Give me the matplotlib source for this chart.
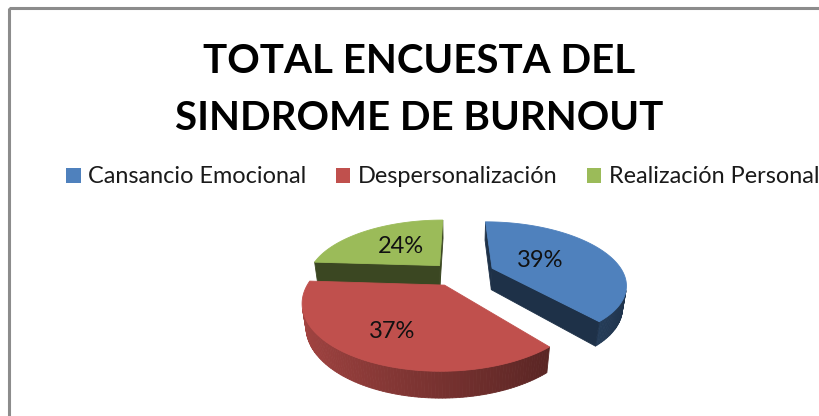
import numpy as np
import matplotlib
matplotlib.use("Agg")
import matplotlib.pyplot as plt
from matplotlib.patches import Polygon, Patch, Rectangle

# ---------------- data ----------------
categories = ["Cansancio Emocional", "Despersonalización", "Realización Personal"]
values = [39, 37, 24]
pct_labels = ["39%", "37%", "24%"]
title_lines = ["TOTAL ENCUESTA DEL", "SINDROME DE BURNOUT"]

# ---------------- style ----------------
colors = ["#4F81BD", "#C0504D", "#9BBB59"]
explode = [0.29, 0.2, 0.2]
label_r = [0.42, 0.68, 0.5]
FONT = ["Lato", "DejaVu Sans"]

W, H = 819, 416
fig = plt.figure(figsize=(W / 100, H / 100), dpi=100)
ax = fig.add_axes([0, 0, 1, 1])
ax.set_xlim(0, W)
ax.set_ylim(H, 0)
ax.axis("off")

# chart-area border (top/left visible)
ax.add_patch(Rectangle((8.5, 8), W + 20, H + 20, fill=False,
                       edgecolor="#8c8c8c", lw=2.2, zorder=0))

# ---------------- 3D projection ----------------
alpha = np.radians(27)
ca, sa = np.cos(alpha), np.sin(alpha)
Dcam, fcam = 3.8, 500.0
X0, Y0 = 457.0, 274.0
depth = 0.19
cam = np.array([0.0, -Dcam * ca, Dcam * sa])
fwd = np.array([0.0, ca, -sa])
up = np.array([0.0, sa, ca])


def proj(p):
    rel = np.asarray(p, float) - cam
    zc = rel @ fwd
    xc = rel[..., 0]
    yc = rel @ up
    return np.stack([X0 + fcam * xc / zc, Y0 - fcam * yc / zc], axis=-1), zc


def shade(c, f):
    r, g, b = matplotlib.colors.to_rgb(c)
    return (r * f, g * f, b * f)


total = float(sum(values))
starts = np.concatenate([[0], np.cumsum(values)[:-1]]) / total * 360.0
ends = np.cumsum(values) / total * 360.0

slices = []
for i, v in enumerate(values):
    t0, t1 = np.radians(starts[i]), np.radians(ends[i])
    tm = 0.5 * (t0 + t1)
    off = explode[i] * np.array([np.sin(tm), np.cos(tm), 0.0])
    apex = off.copy()
    th = np.linspace(t0, t1, 120)
    arc = np.stack([np.sin(th), np.cos(th), np.zeros_like(th)], axis=1) + off
    dz = np.array([0, 0, -depth])
    faces = []
    # outer curved band
    for k in range(len(th) - 1):
        a, b = arc[k], arc[k + 1]
        tmid = 0.5 * (th[k] + th[k + 1])
        n = np.array([np.sin(tmid), np.cos(tmid), 0])
        cen = 0.5 * (a + b) + dz / 2
        if n @ (cam - cen) > 0:
            f = 0.62 - 0.24 * np.sin(tmid)
            faces.append(([a, b, b + dz, a + dz], shade(colors[i], f)))
    # radial faces
    for t, edge, sgn in ((t0, arc[0], -1), (t1, arc[-1], 1)):
        n = sgn * np.array([np.cos(t), -np.sin(t), 0])
        cen = 0.5 * (apex + edge) + dz / 2
        if n @ (cam - cen) > 0:
            faces.append(([apex, edge, edge + dz, apex + dz], shade(colors[i], 0.38)))
    top = np.vstack([apex[None], arc])
    _, zc = proj(0.5 * (apex + arc[len(arc) // 2]))
    lp = label_r[i] * np.array([np.sin(tm), np.cos(tm), 0]) + off
    slices.append((zc, faces, top, i, lp))

slices.sort(key=lambda s: -s[0])
z = 2
for zc, faces, top, i, lp in slices:
    for pts, col in faces:
        xy, _ = proj(np.array(pts))
        ax.add_patch(Polygon(xy, closed=True, facecolor=col, edgecolor=col,
                             lw=0.6, zorder=z))
    xy, _ = proj(top)
    ax.add_patch(Polygon(xy, closed=True, facecolor=colors[i],
                         edgecolor=colors[i], lw=0.6, zorder=z + 0.5))
    (lx, ly), _ = proj(lp)
    ax.text(lx, ly, pct_labels[i], ha="center", va="center", fontsize=17,
            family=FONT, color="#111111", zorder=10)
    z += 1

# ---------------- title ----------------
ax.text(419, 73, title_lines[0], ha="center", va="baseline", fontsize=29,
        fontweight="bold", family=FONT, color="black")
ax.text(419, 130, title_lines[1], ha="center", va="baseline", fontsize=29,
        fontweight="bold", family=FONT, color="black")

# ---------------- legend ----------------
handles = [Patch(facecolor=c, edgecolor="none") for c in colors]
ax.legend(handles, categories, loc="center left",
          bbox_to_anchor=(66 / W, 1 - 177 / H), ncol=3, frameon=False,
          prop={"family": FONT, "size": 16.9}, handlelength=0.62,
          handleheight=0.62, handletextpad=0.32, columnspacing=1.25,
          borderpad=0, borderaxespad=0, labelcolor="#1a1a1a")

fig.savefig("out.png", dpi=100)
